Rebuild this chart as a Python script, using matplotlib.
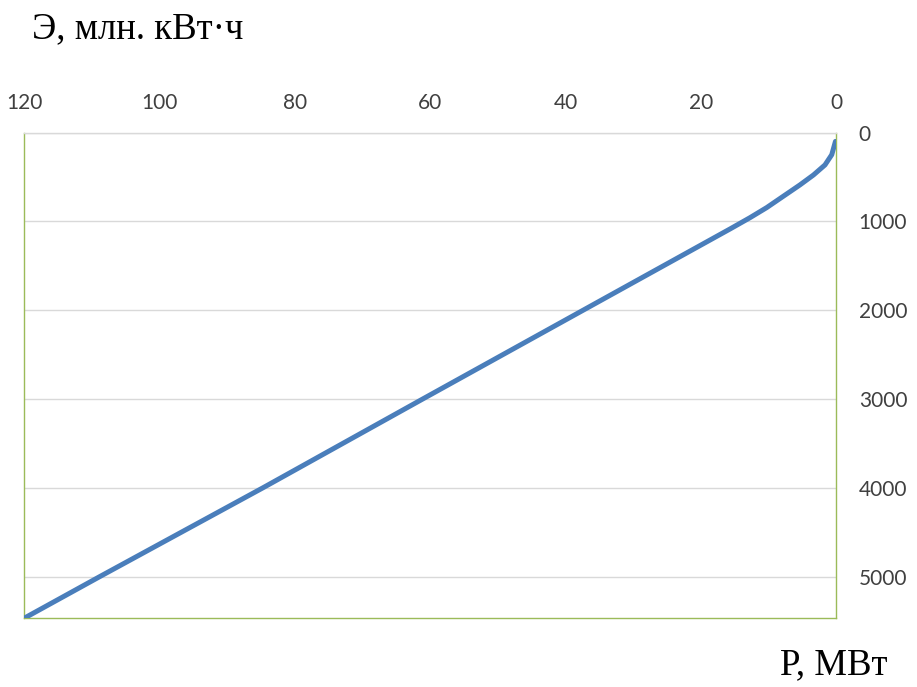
import matplotlib
matplotlib.use("Agg")
import matplotlib.pyplot as plt

# Power (MW) vs. energy (million kWh)
power_mw = [0.15, 0.7, 1.7, 3.4, 5.4, 7.9, 10.3, 12.8, 15.7, 37.4, 61.1, 84.7, 108.8, 120]
energy_mkwh = [100, 250, 365, 478, 590, 720, 845, 960, 1085, 2000, 3000, 4000, 5000, 5470]

x_ticks = [120, 100, 80, 60, 40, 20, 0]
y_ticks = [0, 1000, 2000, 3000, 4000, 5000]

fig = plt.figure(figsize=(9.17, 6.87), dpi=100)
ax = fig.add_axes([0.0262, 0.1, 0.9122 - 0.0262, 0.8071 - 0.1])

ax.plot(power_mw, energy_mkwh, color="#4A7EBB", linewidth=3.6,
        solid_capstyle="round", solid_joinstyle="round", zorder=3)

ax.set_xlim(120, 0)
ax.set_ylim(5470, 0)
ax.set_xticks(x_ticks)
ax.set_yticks(y_ticks)

ax.xaxis.tick_top()
ax.yaxis.tick_right()
ax.tick_params(axis="both", length=0, labelsize=15, colors="#404040")
ax.tick_params(axis="x", pad=14)
ax.tick_params(axis="y", pad=16)
for lbl in ax.get_xticklabels() + ax.get_yticklabels():
    lbl.set_fontfamily("Lato")

ax.yaxis.grid(True, color="#D9D9D9", linewidth=1.0)
ax.xaxis.grid(False)
ax.set_axisbelow(True)

for side in ("left", "right", "bottom"):
    ax.spines[side].set_color("#9BBB59")
    ax.spines[side].set_linewidth(1.0)
ax.spines["top"].set_color("#D9D9D9")
ax.spines["top"].set_linewidth(1.0)

fig.text(0.035, 0.958, "Э, млн. кВт·ч", fontsize=26.5, family="Liberation Serif",
         ha="left", va="center", color="black")
fig.text(0.968, 0.032, "Р, МВт", fontsize=26.5, family="Liberation Serif",
         ha="right", va="center", color="black")

fig.savefig("out.png", dpi=100)
